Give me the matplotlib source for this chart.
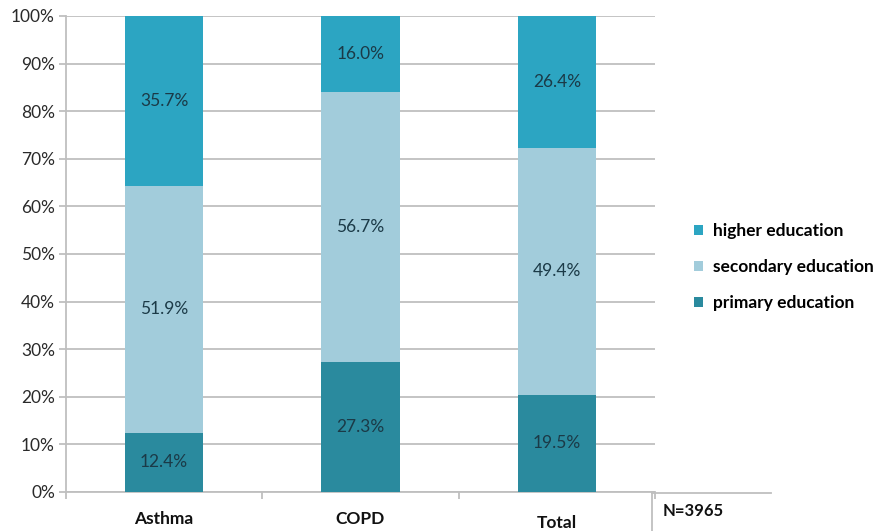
import matplotlib
matplotlib.use("Agg")
import matplotlib.pyplot as plt
import numpy as np
from matplotlib.lines import Line2D

plt.rcParams['font.family'] = ['Lato', 'DejaVu Sans']

categories = ["Asthma", "COPD", "Total"]
series_names = ["primary education", "secondary education", "higher education"]
primary = [12.4, 27.3, 19.5]
secondary = [51.9, 56.7, 49.4]
higher = [35.7, 16.0, 26.4]
y_tick_labels = ["0%", "10%", "20%", "30%", "40%", "50%", "60%", "70%", "80%", "90%", "100%"]
sample_note = "N=3965"

colors = ["#2A8A9E", "#A2CCDB", "#2CA5C2"]

values = np.array([primary, secondary, higher])
# 100% stacked: each category is normalised to its own total
shares = values / values.sum(axis=0) * 100

fig = plt.figure(figsize=(8.73, 5.31), dpi=100)
ax = fig.add_axes([66 / 873, 1 - 492 / 531, (655 - 66) / 873, (492 - 16) / 531])

x = np.arange(len(categories))
bottom = np.zeros(len(categories))
bars = []
for i, name in enumerate(series_names):
    b = ax.bar(x, shares[i], width=0.40, bottom=bottom, color=colors[i], label=name, zorder=3)
    bars.append(b)
    for j in range(len(categories)):
        ax.text(x[j], bottom[j] + shares[i][j] / 2, f"{values[i][j]:.1f}%",
                ha="center", va="center", fontsize=12.5, color="#1B3A47", zorder=4)
    bottom += shares[i]

ax.set_xlim(-0.5, 2.5)
ax.set_ylim(0, 100)
ax.set_yticks(np.arange(0, 101, 10))
ax.set_yticklabels(y_tick_labels, fontsize=12.5, color="#2A2A2A")
ax.yaxis.grid(True, color="#BFBFBF", linewidth=1.3, zorder=0)

for s in ["top", "right"]:
    ax.spines[s].set_visible(False)
ax.spines["left"].set_color("#BFBFBF")
ax.spines["left"].set_linewidth(1.3)
ax.spines["bottom"].set_color("#BFBFBF")
ax.spines["bottom"].set_linewidth(1.3)
ax.tick_params(axis="y", length=5, color="#BFBFBF", width=1.3, pad=3)

# category boundary ticks on the x axis
ax.set_xticks([-0.5, 0.5, 1.5, 2.5])
ax.set_xticklabels([])
ax.tick_params(axis="x", length=5, color="#BFBFBF", width=1.3)
label_offsets = [0, 0, 3]
for j, cat in enumerate(categories):
    ax.annotate(cat, xy=(x[j], 0), xycoords=("data", "axes fraction"),
                xytext=(0, -19.5 - label_offsets[j]), textcoords="offset points",
                ha="center", va="center", fontsize=12.5, fontweight="bold", color="#111111")

handles = [bars[2], bars[1], bars[0]]
labels = [series_names[2], series_names[1], series_names[0]]
leg = fig.legend(handles, labels, loc="center left", bbox_to_anchor=(687 / 873, 1 - 267 / 531),
                 frameon=False, handlelength=0.55, handleheight=0.55, handletextpad=0.55,
                 labelspacing=1.15, borderaxespad=0,
                 prop={"size": 12.5, "weight": "bold"})

# sample size box
fig.add_artist(Line2D([652 / 873, 771 / 873], [1 - 493 / 531, 1 - 493 / 531],
                      color="#BFBFBF", linewidth=1.3))
fig.add_artist(Line2D([652 / 873, 652 / 873], [1 - 493 / 531, 0],
                      color="#BFBFBF", linewidth=1.3))
fig.text(663 / 873, 1 - 511 / 531, sample_note, fontsize=12, fontweight="bold",
         color="#111111", va="center", ha="left")

fig.savefig("out.png", dpi=100)
